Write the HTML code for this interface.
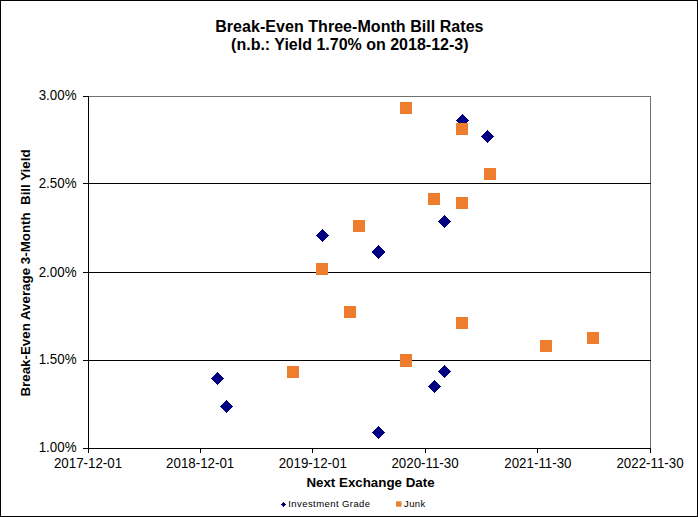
<!DOCTYPE html>
<html><head><meta charset="utf-8">
<style>
html,body{margin:0;padding:0;background:#fff;}
body{width:698px;height:517px;overflow:hidden;position:relative;font-family:"Liberation Sans",sans-serif;color:#000;}
svg{position:absolute;left:0;top:0;}
.t{position:absolute;white-space:nowrap;line-height:1;}
.title{font-weight:bold;font-size:16px;left:0;width:698px;text-align:center;}
.yl{font-size:13.33px;text-align:right;width:60px;left:16.5px;transform:scaleY(1.1);transform-origin:50% 50%;}
.xl{font-size:13.33px;text-align:center;width:100px;transform:scaleY(1.1);transform-origin:50% 50%;}
.xt{font-weight:bold;font-size:13.33px;left:89px;width:563px;text-align:center;top:476px;}
.yt{font-weight:bold;font-size:13.33px;left:26.3px;top:272.5px;width:0;height:0;}
.yt span{position:absolute;display:block;white-space:pre;line-height:1;transform:translate(-50%,-50%) rotate(-90deg);}
.lg{font-size:9.5px;top:499px;letter-spacing:0.42px;}
</style></head><body>
<svg width="698" height="517" viewBox="0 0 698 517" shape-rendering="crispEdges">
<rect x="0" y="0" width="698" height="517" fill="#fff"/>
<!-- outer frame -->
<g fill="#000">
<rect x="0" y="0" width="698" height="1"/>
<rect x="0" y="0" width="1" height="517"/>
<rect x="697" y="0" width="1" height="517"/>
<rect x="0" y="516" width="698" height="1"/>
</g>
<!-- plot border (gray top/right) -->
<g fill="#707070">
<rect x="88" y="96" width="563" height="1"/>
<rect x="650" y="96" width="1" height="353"/>
</g>
<g fill="#000">
<!-- axes -->
<rect x="88" y="96" width="1" height="353"/>
<rect x="88" y="448" width="563" height="1"/>
<rect x="88" y="183" width="563" height="1"/>
<rect x="88" y="272" width="563" height="1"/>
<rect x="88" y="360" width="563" height="1"/>
<rect x="83" y="96" width="6" height="1"/>
<rect x="83" y="183" width="6" height="1"/>
<rect x="83" y="272" width="6" height="1"/>
<rect x="83" y="360" width="6" height="1"/>
<rect x="83" y="448" width="6" height="1"/>
<rect x="88" y="448" width="1" height="5"/>
<rect x="200" y="448" width="1" height="5"/>
<rect x="312" y="448" width="1" height="5"/>
<rect x="425" y="448" width="1" height="5"/>
<rect x="537" y="448" width="1" height="5"/>
<rect x="650" y="448" width="1" height="5"/>
</g>
<g fill="#000080" shape-rendering="crispEdges">
<polygon points="217.5,372.0 224.0,378.5 217.5,385.0 211.0,378.5"/>
<polygon points="226.5,400.0 233.0,406.5 226.5,413.0 220.0,406.5"/>
<polygon points="322.5,229.0 329.0,235.5 322.5,242.0 316.0,235.5"/>
<polygon points="378.5,246.0 385.0,252.5 378.5,259.0 372.0,252.5"/>
<polygon points="378.5,245.0 385.0,251.5 378.5,258.0 372.0,251.5"/>
<polygon points="378.5,426.0 385.0,432.5 378.5,439.0 372.0,432.5"/>
<polygon points="434.5,380.0 441.0,386.5 434.5,393.0 428.0,386.5"/>
<polygon points="444.5,365.0 451.0,371.5 444.5,378.0 438.0,371.5"/>
<polygon points="444.5,215.0 451.0,221.5 444.5,228.0 438.0,221.5"/>
<polygon points="462.5,114.0 469.0,120.5 462.5,127.0 456.0,120.5"/>
<polygon points="487.5,130.0 494.0,136.5 487.5,143.0 481.0,136.5"/>
</g>
<g fill="#ee7d2e">
<rect x="287" y="366" width="12" height="12"/>
<rect x="316" y="263" width="12" height="12"/>
<rect x="344" y="306" width="12" height="12"/>
<rect x="353" y="220" width="12" height="12"/>
<rect x="400" y="102" width="12" height="12"/>
<rect x="400" y="354" width="12" height="13"/>
<rect x="428" y="193" width="12" height="12"/>
<rect x="456" y="123" width="12" height="12"/>
<rect x="456" y="197" width="12" height="12"/>
<rect x="484" y="168" width="12" height="12"/>
<rect x="456" y="317" width="12" height="12"/>
<rect x="540" y="340" width="12" height="12"/>
<rect x="587" y="332" width="12" height="12"/>
</g>
<!-- legend -->
<polygon fill="#000080" points="283.5,501.7 286.3,504.5 283.5,507.3 280.7,504.5"/>
<rect fill="#ee7d2e" x="396.1" y="501.3" width="5.4" height="5.4" shape-rendering="auto"/>
</svg>
<div class="t title" style="top:19px;left:0.4px;letter-spacing:0.05px;">Break-Even Three-Month Bill Rates</div>
<div class="t title" style="top:37px;left:0.8px;">(n.b.: Yield 1.70% on 2018-12-3)</div>
<div class="t yl" style="top:89px;">3.00%</div>
<div class="t yl" style="top:177px;">2.50%</div>
<div class="t yl" style="top:266px;">2.00%</div>
<div class="t yl" style="top:353px;">1.50%</div>
<div class="t yl" style="top:441px;">1.00%</div>
<div class="t xl" style="top:457px;left:38px;">2017-12-01</div>
<div class="t xl" style="top:457px;left:150.2px;">2018-12-01</div>
<div class="t xl" style="top:457px;left:262.8px;">2019-12-01</div>
<div class="t xl" style="top:457px;left:375px;">2020-11-30</div>
<div class="t xl" style="top:457px;left:487.9px;">2021-11-30</div>
<div class="t xl" style="top:457px;left:600px;">2022-11-30</div>
<div class="t xt">Next Exchange Date</div>
<div class="t yt"><span>Break-Even Average 3-Month  Bill Yield</span></div>
<div class="t lg" style="left:288.3px;">Investment Grade</div>
<div class="t lg" style="left:404px;">Junk</div>
</body></html>
